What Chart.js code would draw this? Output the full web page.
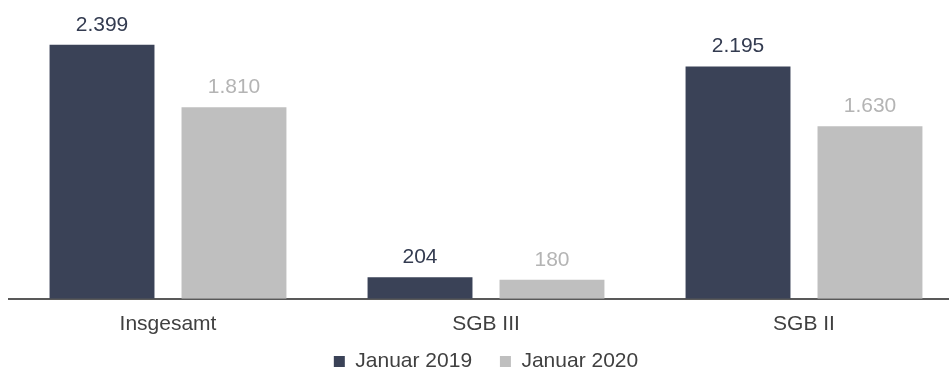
<!DOCTYPE html>
<html>
<head>
<meta charset="utf-8">
<script src="https://cdn.jsdelivr.net/npm/chart.js@4/dist/chart.umd.min.js"></script>
<style>
  html, body { margin:0; padding:0; background:#fff; overflow:hidden; height:369px; }
  #wrap { width:980px; height:382px; position:relative; }
</style>
</head>
<body>
<div id="wrap"><canvas id="myChart"></canvas></div>
<script>
var categories=['Insgesamt','SGB III','SGB II'];
var seriesNames=['Januar 2019','Januar 2020'];
var values2019=[2399,204,2195];
var values2020=[1810,180,1630];

var darkColor='#3a4257';
var lightColor='#bfbfbf';

function fmt(v){
    // german thousands separator
    var s=String(v);
    return s.replace(/\B(?=(\d{3})+(?!\d))/g,'.');
}

const valueLabels={
    id:'valueLabels',
    afterDatasetsDraw(chart){
        const ctx=chart.ctx;
        ctx.save();
        ctx.font='21px "Liberation Sans", Arial, sans-serif';
        ctx.textAlign='center';
        ctx.textBaseline='alphabetic';
        chart.data.datasets.forEach(function(ds,i){
            const meta=chart.getDatasetMeta(i);
            ctx.fillStyle=ds.labelColor;
            meta.data.forEach(function(bar,j){
                ctx.fillText(fmt(ds.data[j]),bar.x,bar.y-14);
            });
        });
        ctx.restore();
    }
};

const data={
    labels:categories,
    datasets:[
        {label:seriesNames[0],data:values2019,backgroundColor:darkColor,labelColor:'#333b50'},
        {label:seriesNames[1],data:values2020,backgroundColor:lightColor,labelColor:'#b4b4b4'}
    ]
};

const config={
    type:'bar',
    data,
    options:{
        responsive:true,
        maintainAspectRatio:false,
        animation:false,
        categoryPercentage:0.83,
        barPercentage:0.795,
        layout:{padding:{left:9,right:17,top:13,bottom:0}},
        scales:{
            x:{
                grid:{display:false,drawTicks:false},
                border:{display:true,color:'#595959',width:2},
                ticks:{
                    color:'#404040',
                    padding:13,
                    font:{family:'"Liberation Sans", Arial, sans-serif',size:21}
                }
            },
            y:{
                display:false,
                min:0,
                max:2700
            }
        },
        plugins:{
            tooltip:{enabled:false},
            legend:{
                position:'bottom',
                labels:{
                    boxWidth:11,
                    boxHeight:11,
                    padding:1,
                    color:'#404040',
                    font:{family:'"Liberation Sans", Arial, sans-serif',size:21},
                    generateLabels:function(chart){
                        var items=Chart.defaults.plugins.legend.labels.generateLabels(chart);
                        items[0].text+='\u2002\u2002 ';
                        return items;
                    }
                }
            }
        }
    },
    plugins:[valueLabels]
};

const myChart=new Chart(document.getElementById('myChart'),config);
</script>
</body>
</html>
